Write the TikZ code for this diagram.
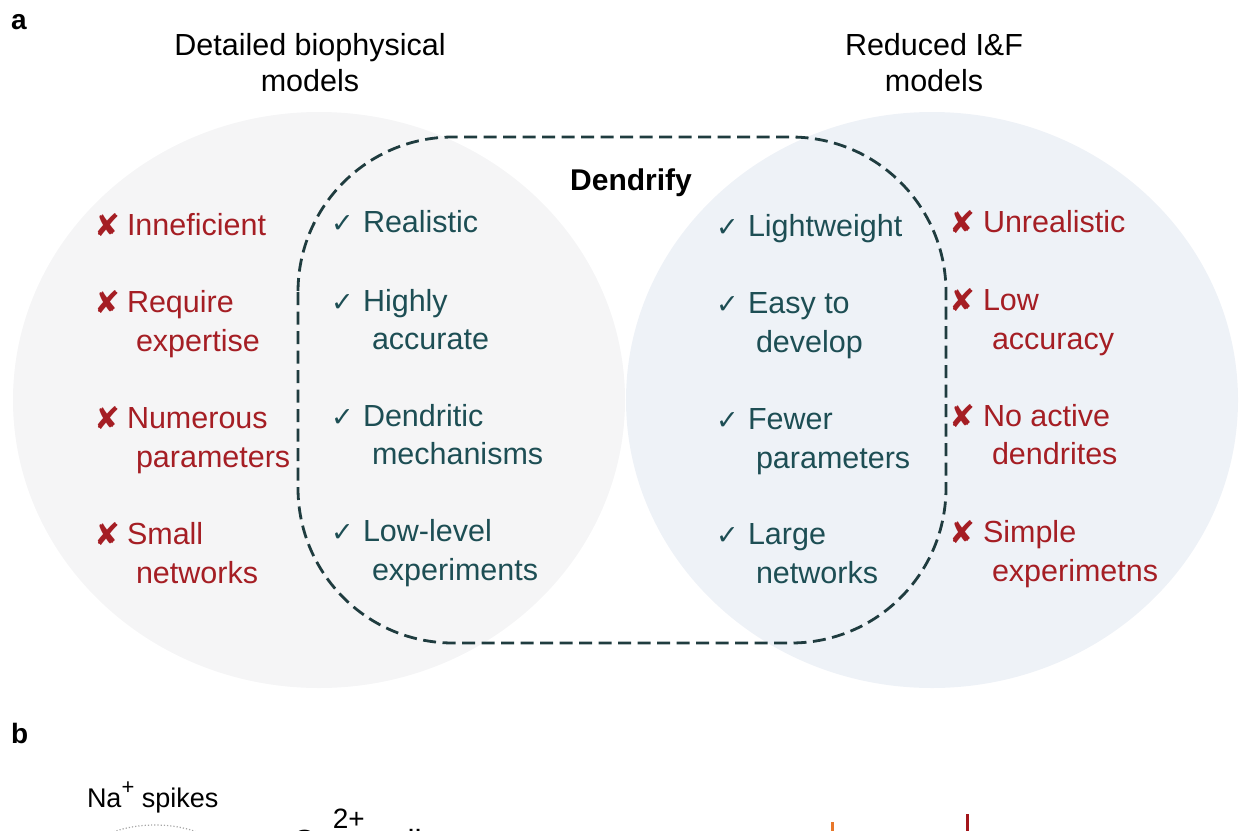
\documentclass[tikz,border=0pt]{standalone}
\usepackage{fontspec}
\setmainfont{Liberation Sans}
\newfontfamily\symfont{DejaVu Sans}
\definecolor{leftfill}{HTML}{F5F5F6}
\definecolor{rightfill}{HTML}{EEF2F7}
\definecolor{badred}{HTML}{A51E24}
\definecolor{goodteal}{HTML}{1D4E54}
\definecolor{boxline}{HTML}{1F3C3F}
\definecolor{spikeorange}{HTML}{E8772A}
\definecolor{spikered}{HTML}{A3161B}
\tikzset{
  every node/.style={inner sep=0pt, outer sep=0pt},
  txt/.style={anchor=base west, font=\fontsize{30.5}{36}\selectfont},
  bad/.style={txt, text=badred},
  good/.style={txt, text=goodteal},
  badmark/.style={anchor=base west, text=badred, font=\symfont\fontsize{31}{34}\selectfont},
  goodmark/.style={anchor=base west, text=goodteal, font=\symfont\fontsize{27}{30}\selectfont},
  title/.style={anchor=base, font=\fontsize{30.5}{36}\selectfont, text=black},
  panel/.style={anchor=base west, font=\bfseries\fontsize{28}{32}\selectfont},
  dendbox/.style={draw=boxline, line width=2.8pt, dash pattern=on 13pt off 6.5pt, rounded corners=155pt}
}
\begin{document}
\begin{tikzpicture}[x=1pt,y=-1pt]
\path[use as bounding box] (0,0) rectangle (1239,830);
\clip (0,0) rectangle (1239,830);
% circles
\fill[leftfill] (319,400) ellipse [x radius=306, y radius=288];
\fill[rightfill] (932,400) ellipse [x radius=306, y radius=288];
% dashed Dendrify box
\draw[dendbox] (298,137) rectangle (946,643);
% panel labels
\node[panel] (pa) at (11,29) {a};
\node[panel] (pb) at (11,743) {b};
% titles
\node[title] (t1a) at (310,55) {Detailed biophysical};
\node[title] (t1b) at (310,91) {models};
\node[title] (t2a) at (934,55) {Reduced I\&F};
\node[title] (t2b) at (934,91) {models};
\node[title, font=\bfseries\fontsize{30}{36}\selectfont] (dend) at (631,190) {Dendrify};
% left column (bad)
\node[badmark] (lx1) at (94,236) {✘};
\node[bad] (l1) at (127,235) {Inneficient};
\node[badmark] (lx2) at (94,313) {✘};
\node[bad] (l2a) at (127,312) {Require};
\node[bad] (l2b) at (136,351) {expertise};
\node[badmark] (lx3) at (94,429) {✘};
\node[bad] (l3a) at (127,428) {Numerous};
\node[bad] (l3b) at (136,467) {parameters};
\node[badmark] (lx4) at (94,545) {✘};
\node[bad] (l4a) at (127,544) {Small};
\node[bad] (l4b) at (136,583) {networks};
% middle-left column (good)
\node[goodmark] (mc1) at (331,232) {✓};
\node[good] (m1) at (363,232) {Realistic};
\node[goodmark] (mc2) at (331,311) {✓};
\node[good] (m2a) at (363,311) {Highly};
\node[good] (m2b) at (372,349) {accurate};
\node[goodmark] (mc3) at (331,426) {✓};
\node[good] (m3a) at (363,426) {Dendritic};
\node[good] (m3b) at (372,464) {mechanisms};
\node[goodmark] (mc4) at (331,541) {✓};
\node[good] (m4a) at (363,541) {Low-level};
\node[good] (m4b) at (372,580) {experiments};
% middle-right column (good)
\node[goodmark] (nc1) at (716,236) {✓};
\node[good] (n1) at (748,236) {Lightweight};
\node[goodmark] (nc2) at (716,313) {✓};
\node[good] (n2a) at (748,313) {Easy to};
\node[good] (n2b) at (756,352) {develop};
\node[goodmark] (nc3) at (716,429) {✓};
\node[good] (n3a) at (748,429) {Fewer};
\node[good] (n3b) at (756,468) {parameters};
\node[goodmark] (nc4) at (716,544) {✓};
\node[good] (n4a) at (748,544) {Large};
\node[good] (n4b) at (756,583) {networks};
% right column (bad)
\node[badmark] (rx1) at (949,233) {✘};
\node[bad] (r1) at (983,232) {Unrealistic};
\node[badmark] (rx2) at (949,311) {✘};
\node[bad] (r2a) at (983,310) {Low};
\node[bad] (r2b) at (992,349) {accuracy};
\node[badmark] (rx3) at (949,427) {✘};
\node[bad] (r3a) at (983,426) {No active};
\node[bad] (r3b) at (992,464) {dendrites};
\node[badmark] (rx4) at (949,543) {✘};
\node[bad] (r4a) at (983,542) {Simple};
\node[bad] (r4b) at (992,581) {experimetns};
% panel b (cut off at the lower edge, as in the source)
\node[anchor=base west, font=\fontsize{27}{32}\selectfont] (na) at (87,807) {Na\raisebox{0.45em}{\fontsize{22}{22}\selectfont +} spikes};
\draw[gray!70, line width=1.2pt, dotted] (155,866) ellipse [x radius=75, y radius=41];
\node[anchor=base west, font=\fontsize{32}{38}\selectfont] (ca) at (292,852) {Ca\raisebox{0.75em}{\fontsize{28}{28}\selectfont 2+} spikes};
\coordinate (o1) at (832,822);
\coordinate (o2) at (832,840);
\draw[spikeorange, line width=3pt] (o1) -- (o2);
\coordinate (s1) at (967,814);
\coordinate (s2) at (967,840);
\draw[spikered, line width=3pt] (s1) -- (s2);
\end{tikzpicture}
\end{document}
